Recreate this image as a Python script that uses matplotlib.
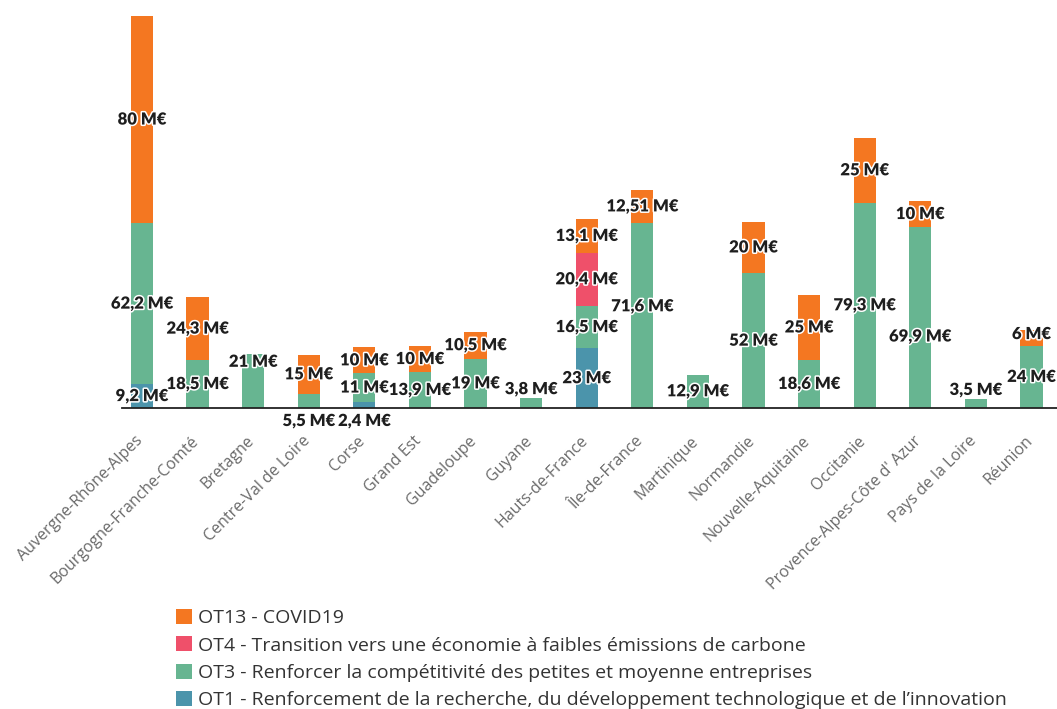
import matplotlib
matplotlib.use("Agg")
import matplotlib.pyplot as plt
import matplotlib.patheffects as pe
import matplotlib.transforms as mtransforms
from matplotlib.patches import Patch
import numpy as np

regions = [
    "Auvergne-Rhône-Alpes", "Bourgogne-Franche-Comté", "Bretagne",
    "Centre-Val de Loire", "Corse", "Grand Est", "Guadeloupe", "Guyane",
    "Hauts-de-France", "Île-de-France", "Martinique", "Normandie",
    "Nouvelle-Aquitaine", "Occitanie", "Provence-Alpes-Côte d' Azur",
    "Pays de la Loire", "Réunion",
]

# Amounts in M€, by thematic objective (0 = not programmed)
ot1 = [9.2, 0, 0, 0, 2.4, 0, 0, 0, 23, 0, 0, 0, 0, 0, 0, 0, 0]
ot3 = [62.2, 18.5, 21, 5.5, 11, 13.9, 19, 3.8, 16.5, 71.6, 12.9, 52, 18.6, 79.3, 69.9, 3.5, 24]
ot4 = [0, 0, 0, 0, 0, 0, 0, 0, 20.4, 0, 0, 0, 0, 0, 0, 0, 0]
ot13 = [80, 24.3, 0, 15, 10, 10, 10.5, 0, 13.1, 12.51, 0, 20, 25, 25, 10, 0, 6]

series_names = [
    "OT1 - Renforcement de la recherche, du développement technologique et de l’innovation",
    "OT3 - Renforcer la compétitivité des petites et moyenne entreprises",
    "OT4 - Transition vers une économie à faibles émissions de carbone",
    "OT13 - COVID19",
]
series_values = [ot1, ot3, ot4, ot13]
series_colors = ["#4b94ab", "#67b591", "#ef506a", "#f47721"]

# vertical nudges (pixels) for a few labels that would otherwise collide
label_nudge = {(2, 1): 19, (9, 1): 9, (14, 1): -19, (16, 3): 4}

W, H = 1057, 709
fig = plt.figure(figsize=(W / 100, H / 100), dpi=100)
ax = fig.add_axes([122 / W, (H - 408) / H, (W - 122) / W, 392 / H])

x = np.arange(len(regions))
bottom = np.zeros(len(regions))
bar_w = 0.4

def fmt(v):
    s = f"{v:.2f}".rstrip("0").rstrip(".")
    return s.replace(".", ",") + " M€"

label_style = dict(fontsize=12, fontweight="heavy", color="#1e1e1e",
                   family=["Lato", "DejaVu Sans"], ha="center", va="center",
                   path_effects=[pe.withStroke(linewidth=2.2, foreground="white")],
                   zorder=5, annotation_clip=False)

n_segments = [sum(1 for s in series_values if s[i] > 0) for i in range(len(regions))]

for si, (vals, col) in enumerate(zip(series_values, series_colors)):
    vals = np.array(vals, dtype=float)
    ax.bar(x, vals, width=bar_w, bottom=bottom, color=col, linewidth=0, zorder=2)
    for i, v in enumerate(vals):
        if v <= 0:
            continue
        if v < 6 and n_segments[i] == 1:
            ax.annotate(fmt(v), (x[i], bottom[i] + v), xytext=(0, 9),
                        textcoords="offset pixels", **label_style)
        elif v < 6:
            ax.annotate(fmt(v), (x[i], 0), xytext=(0, -13),
                        textcoords="offset pixels", **label_style)
        else:
            dy = label_nudge.get((i, si), 0)
            ax.annotate(fmt(v), (x[i], bottom[i] + v / 2), xytext=(0, dy),
                        textcoords="offset pixels", **label_style)
    bottom += vals

ax.set_xlim(-0.36, 16.46)
ax.set_ylim(0, 151.4)
for side in ["top", "right", "left"]:
    ax.spines[side].set_visible(False)
ax.spines["bottom"].set_color("#222222")
ax.spines["bottom"].set_linewidth(1.3)
ax.spines["bottom"].set_zorder(3)
ax.set_yticks([])
ax.set_xticks(x)
ax.set_xticklabels(regions, rotation=45, ha="right", va="top", rotation_mode="anchor",
                   fontsize=11.5, color="#6a6a6a", family=["Open Sans", "DejaVu Sans"])
ax.tick_params(axis="x", length=0, pad=18)
shift = mtransforms.ScaledTranslation(-7 / 100, 0, fig.dpi_scale_trans)
for lbl in ax.get_xticklabels():
    lbl.set_transform(lbl.get_transform() + shift)

handles = [Patch(facecolor=c, edgecolor="none") for c in series_colors[::-1]]
fig.legend(handles, series_names[::-1], loc="upper left",
           bbox_to_anchor=(176 / W, 1 - 609 / H), frameon=False,
           prop={"family": ["Open Sans", "DejaVu Sans"], "size": 14},
           labelcolor="#333333", handlelength=0.82, handleheight=0.8,
           handletextpad=0.3, labelspacing=0.47, borderpad=0, borderaxespad=0)

fig.savefig("out.png", dpi=100, facecolor="white")
